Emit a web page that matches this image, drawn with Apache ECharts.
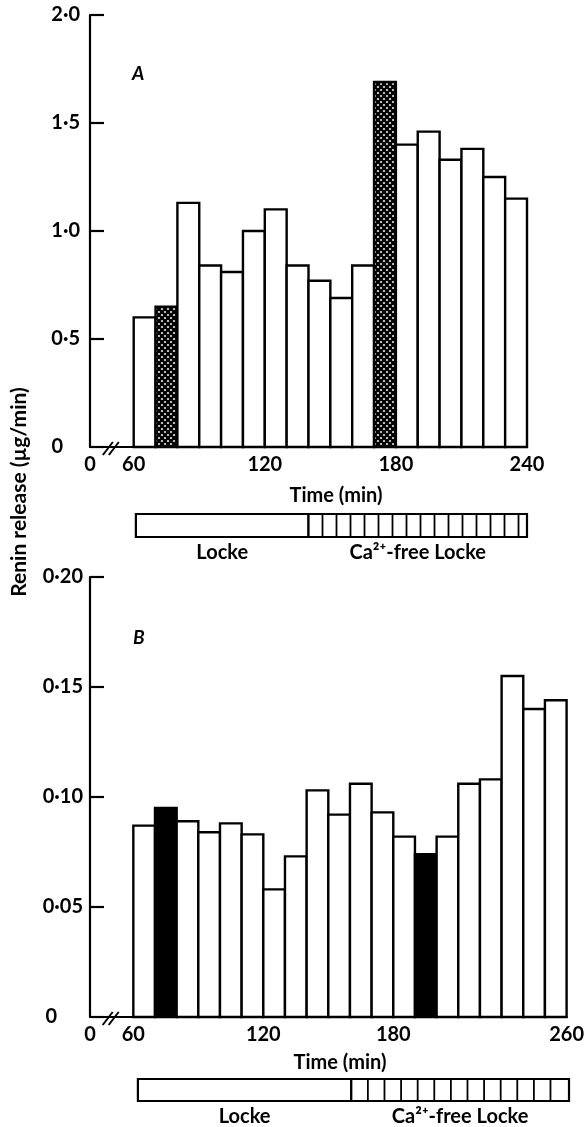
<!DOCTYPE html>
<html>
<head>
<meta charset="utf-8">
<script src="https://cdn.jsdelivr.net/npm/echarts@6/dist/echarts.min.js"></script>
<style>
  html, body { margin: 0; padding: 0; background: #fff; }
  #chart { width: 587px; height: 1127px; }
</style>
</head>
<body>
<div id="chart"></div>
<script>
  // panel A: bin start (min) and renin release (ug/min)
  const timesA = [60, 70, 80, 90, 100, 110, 120, 130, 140, 150, 160, 170, 180, 190, 200, 210, 220, 230]
  const valuesA = [0.60, 0.65, 1.13, 0.84, 0.81, 1.00, 1.10, 0.84, 0.77, 0.69, 0.84, 1.69, 1.40, 1.46, 1.33, 1.38, 1.25, 1.15]
  const fillA = ['open', 'hatch', 'open', 'open', 'open', 'open', 'open', 'open', 'open', 'open', 'open', 'hatch', 'open', 'open', 'open', 'open', 'open', 'open']

  // panel B
  const timesB = [60, 70, 80, 90, 100, 110, 120, 130, 140, 150, 160, 170, 180, 190, 200, 210, 220, 230, 240, 250]
  const valuesB = [0.087, 0.095, 0.089, 0.084, 0.088, 0.083, 0.058, 0.073, 0.103, 0.092, 0.106, 0.093, 0.082, 0.074, 0.082, 0.106, 0.108, 0.155, 0.140, 0.144]
  const fillB = ['open', 'solid', 'open', 'open', 'open', 'open', 'open', 'open', 'open', 'open', 'open', 'open', 'open', 'solid', 'open', 'open', 'open', 'open', 'open', 'open']

  const binWidth = 10

  // perfusion periods: [start, end, kind] (0 = Locke, 1 = Ca-free Locke)
  const periodsA = [[61, 140, 0], [140, 240, 1]]
  const periodsB = [[62, 160, 0], [160, 260, 1]]
  const periodLabels = ['Locke', 'Ca²⁺-free Locke']

  const xTicksA = [40, 60, 120, 180, 240]
  const xTicksB = [40, 60, 120, 180, 260]

  const FONT = 'Lato, "DejaVu Sans", sans-serif'
  const FS = 20

  function hatchPattern () {
    const c = document.createElement('canvas')
    c.width = 6
    c.height = 6
    const g = c.getContext('2d')
    g.fillStyle = '#fff'
    g.fillRect(0, 0, 6, 6)
    g.strokeStyle = '#000'
    g.lineWidth = 2.5
    g.beginPath()
    g.moveTo(-1, -1); g.lineTo(7, 7)
    g.moveTo(7, -1); g.lineTo(-1, 7)
    g.stroke()
    return c
  }
  const hatch = { image: hatchPattern(), repeat: 'repeat' }

  function fillOf (kind) {
    if (kind === 'hatch') return hatch
    if (kind === 'solid') return '#000'
    return '#fff'
  }

  function barRenderer (fills) {
    return function (params, api) {
      const t = api.value(0)
      const v = api.value(1)
      const p0 = api.coord([t, 0])
      const p1 = api.coord([t + binWidth, v])
      return {
        type: 'rect',
        shape: { x: p0[0], y: p1[1], width: p1[0] - p0[0], height: p0[1] - p1[1] },
        style: { fill: fillOf(fills[params.dataIndex]), stroke: '#000', lineWidth: 2.4 }
      }
    }
  }

  function periodRenderer (gap) {
    return function (params, api) {
      const a = api.coord([api.value(0), 1])
      const b = api.coord([api.value(1), 0])
      const kids = [{
        type: 'rect',
        shape: { x: a[0], y: a[1], width: b[0] - a[0], height: b[1] - a[1] },
        style: { fill: '#fff', stroke: '#000', lineWidth: 2.2 }
      }]
      if (api.value(2) === 1) {
        for (let x = a[0] + gap; x < b[0] - 3; x += gap) {
          kids.push({ type: 'line', shape: { x1: x, y1: a[1], x2: x, y2: b[1] }, style: { stroke: '#000', lineWidth: 1.8 } })
        }
      }
      kids.push({
        type: 'text',
        style: {
          text: periodLabels[params.dataIndex],
          x: (a[0] + b[0]) / 2, y: b[1] + 16,
          align: 'center', verticalAlign: 'middle',
          font: 'bold ' + FS + 'px ' + FONT, fill: '#000'
        }
      })
      return { type: 'group', children: kids }
    }
  }

  function yAxisOf (grid, max, step, digits, zeroPad, margin) {
    return {
      gridIndex: grid, type: 'value', min: 0, max: max, interval: step,
      axisLine: { show: true, lineStyle: { color: '#000', width: 2.2 } },
      axisTick: { show: true, inside: true, length: 14, lineStyle: { color: '#000', width: 2.2 } },
      splitLine: { show: false },
      axisLabel: {
        margin: margin, color: '#000', fontSize: FS, fontWeight: 'bold', fontFamily: FONT,
        formatter: v => v === 0 ? '{z|0}' : v.toFixed(digits).replace('.', '·'),
        rich: { z: { padding: [0, zeroPad, 0, 0], fontSize: FS, fontWeight: 'bold', fontFamily: FONT, color: '#000' } }
      }
    }
  }

  function xAxisOf (grid, max, ticks) {
    return {
      gridIndex: grid, type: 'value', min: 40, max: max,
      axisLine: { show: true, onZero: false, lineStyle: { color: '#000', width: 2.2 } },
      axisTick: { show: false },
      splitLine: { show: false },
      axisLabel: {
        customValues: ticks, showMinLabel: true, showMaxLabel: true, margin: 8,
        color: '#000', fontSize: FS, fontWeight: 'bold', fontFamily: FONT,
        formatter: v => v === 40 ? '0' : String(v)
      }
    }
  }

  function hiddenX (grid, max) {
    return { gridIndex: grid, type: 'value', min: 40, max: max, show: false }
  }
  function hiddenY (grid) {
    return { gridIndex: grid, type: 'value', min: 0, max: 1, show: false }
  }

  const textBold = { color: '#000', fontSize: FS, fontWeight: 'bold', fontFamily: FONT }
  const panelTag = Object.assign({}, textBold, { fontStyle: 'italic', fontSize: 19 })

  let myChart = echarts.init(document.getElementById('chart'), null, { renderer: 'canvas' })
  myChart.setOption({
    animation: false,
    backgroundColor: '#fff',
    title: [
      { text: 'Time (min)', left: 331, top: 481, textAlign: 'center', textStyle: textBold },
      { text: 'Time (min)', left: 335, top: 1048, textAlign: 'center', textStyle: textBold },
      { text: 'A', left: 127, top: 59, textStyle: panelTag },
      { text: 'B', left: 128, top: 623, textStyle: panelTag }
    ],
    grid: [
      { left: 90, top: 15, width: 437, height: 432 },
      { left: 90, top: 577, width: 479, height: 440 },
      { left: 90, top: 514, width: 437, height: 23 },
      { left: 90, top: 1079, width: 479, height: 22 }
    ],
    xAxis: [xAxisOf(0, 240, xTicksA), xAxisOf(1, 260, xTicksB), hiddenX(2, 240), hiddenX(3, 260)],
    yAxis: [yAxisOf(0, 2.0, 0.5, 1, 17, 10), yAxisOf(1, 0.2, 0.05, 2, 26, 7), hiddenY(2), hiddenY(3)],
    series: [
      {
        type: 'custom', xAxisIndex: 0, yAxisIndex: 0,
        data: timesA.map((t, i) => [t, valuesA[i]]),
        renderItem: barRenderer(fillA)
      },
      {
        type: 'custom', xAxisIndex: 1, yAxisIndex: 1,
        data: timesB.map((t, i) => [t, valuesB[i]]),
        renderItem: barRenderer(fillB)
      },
      { type: 'custom', xAxisIndex: 2, yAxisIndex: 2, data: periodsA, renderItem: periodRenderer(14) },
      { type: 'custom', xAxisIndex: 3, yAxisIndex: 3, data: periodsB, renderItem: periodRenderer(16.6) }
    ]
  })

  // axis break marks and the shared y-axis title
  function breakMark (gridIndex) {
    const p = myChart.convertToPixel({ gridIndex: gridIndex }, [50, 0])
    return {
      type: 'group', x: p[0], y: p[1],
      children: [
        { type: 'rect', shape: { x: -3, y: -3, width: 6, height: 6 }, style: { fill: '#fff' } },
        { type: 'line', shape: { x1: -9, y1: 8, x2: 1, y2: -5 }, style: { stroke: '#000', lineWidth: 2 } },
        { type: 'line', shape: { x1: -3, y1: 8, x2: 7, y2: -5 }, style: { stroke: '#000', lineWidth: 2 } }
      ]
    }
  }
  myChart.setOption({
    graphic: [
      breakMark(0),
      breakMark(1),
      {
        type: 'text', x: 19, y: 492, rotation: Math.PI / 2,
        style: {
          text: 'Renin release (µg/min)', align: 'center', verticalAlign: 'middle',
          font: 'bold 21px ' + FONT, fill: '#000'
        }
      }
    ]
  })
</script>
</body>
</html>
